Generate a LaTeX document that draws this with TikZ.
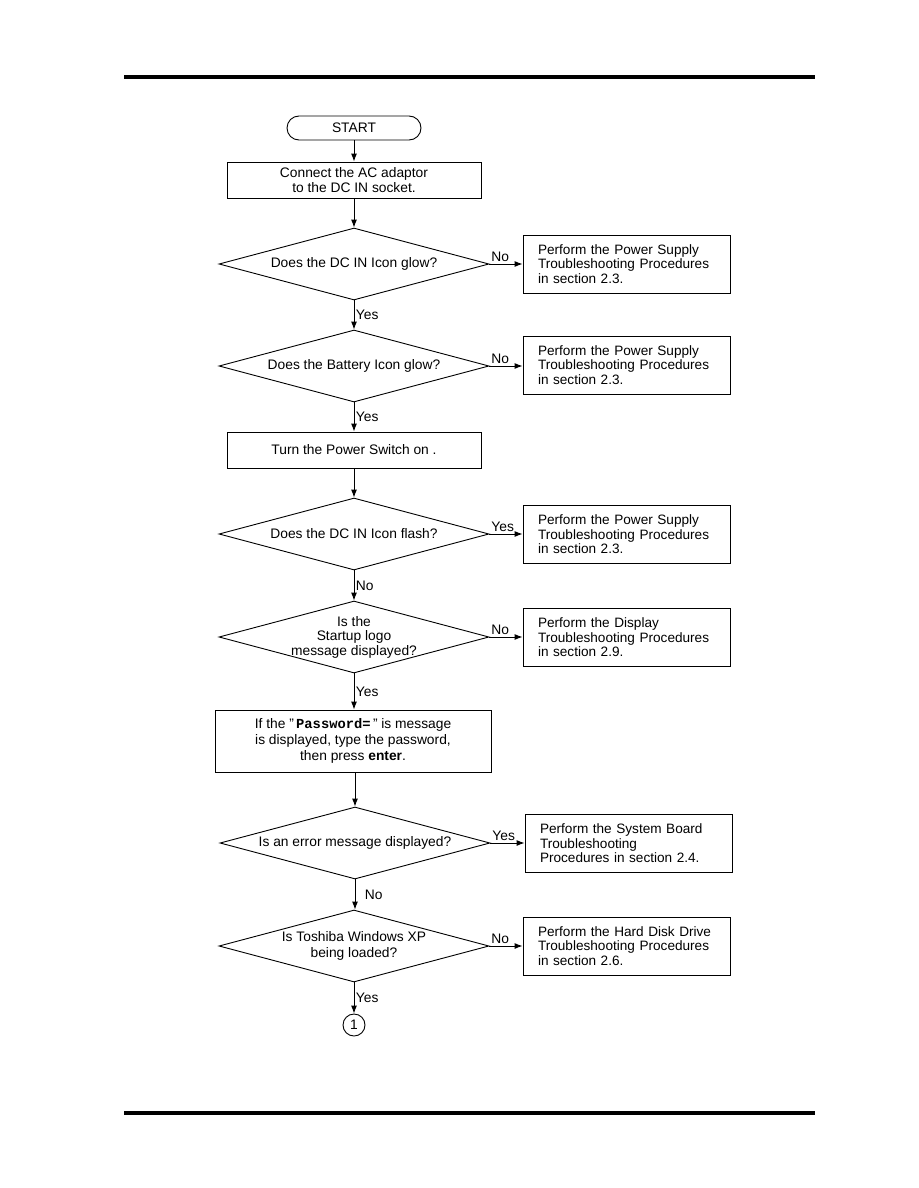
\documentclass[tikz,border=0pt]{standalone}
\usepackage{fontspec}
\setmainfont{Liberation Sans}
\setmonofont{Liberation Mono}
\usetikzlibrary{arrows.meta,
                positioning,
                shapes.geometric}

\begin{document}
\begin{tikzpicture}[x=1pt, y=-1pt,
    every node/.style={font=\fontsize{13.8}{15.8}\selectfont},
    arr/.style={line width=0.9pt, -{Latex[length=8pt, width=6pt]}},
    terminal/.style={draw, line width=0.9pt, rectangle, rounded corners=12pt,
        minimum width=134pt, minimum height=24pt},
    process/.style={draw, line width=0.9pt, rectangle, minimum width=254pt,
        minimum height=36pt, align=center},
    decision/.style={draw, line width=0.9pt, diamond, aspect=3.75, inner sep=0pt,
        minimum width=270pt, minimum height=72pt, align=center},
    action/.style={draw, line width=0.9pt, rectangle, minimum width=207pt,
        minimum height=58pt, text width=177pt, align=left,
        font=\fontsize{13.6}{14.6}\selectfont},
    lbl/.style={inner sep=1.5pt},
    connector/.style={draw, circle, line width=0.9pt, minimum size=22pt, inner sep=0pt}]

    \useasboundingbox (0,0) rectangle (918,1188);

    % page rules
    \draw[line width=4pt] (124,77) -- (815,77);
    \draw[line width=3.5pt] (124,1113) -- (815,1113);

    % main column
    \node[terminal] (start) at (354,128) {START};
    \node[process] (adaptor) at (354,180) {Connect the AC adaptor\\to the DC IN socket.};
    \node[decision] (dcglow) at (354,264) {Does the DC IN Icon glow?};
    \node[decision] (batglow) at (354,366) {Does the Battery Icon glow?};
    \node[process] (power) at (354,450) {Turn the Power Switch on .};
    \node[decision] (dcflash) at (354,534) {Does the DC IN Icon flash?};
    \node[decision, label={[align=center, font=\fontsize{13.8}{14.5}\selectfont]center:Is the\\Startup logo\\message displayed?}]
        (logo) at (354,637) {};
    \node[process, minimum width=276pt, minimum height=62pt] (passwd) at (353,741)
        {If the "\,\texttt{\textbf{Password=}}\," is message\\is displayed, type the password,\\then press \textbf{enter}.};
    \node[decision] (error) at (355,843) {Is an error message displayed?};
    \node[decision] (winxp) at (354,946) {Is Toshiba Windows XP\\being loaded?};
    \node[connector] (next) at (354,1025) {1};

    % side boxes
    \node[action] (psu1) at (626.5,264) {Perform the Power Supply\\Troubleshooting Procedures\\in section 2.3.};
    \node[action] (psu2) at (626.5,365) {Perform the Power Supply\\Troubleshooting Procedures\\in section 2.3.};
    \node[action] (psu3) at (626.5,534.5) {Perform the Power Supply\\Troubleshooting Procedures\\in section 2.3.};
    \node[action] (disp) at (626.5,637.5) {Perform the Display\\Troubleshooting Procedures\\in section 2.9.};
    \node[action] (board) at (628.5,843.5) {Perform the System Board\\Troubleshooting\\Procedures in section 2.4.};
    \node[action] (hdd) at (626.5,946) {Perform the Hard Disk Drive\\Troubleshooting Procedures\\in section 2.6.};

    % connectors
    \draw[arr] (start) -- (adaptor);
    \draw[arr] (adaptor) -- (dcglow);
    \draw[arr] (dcglow.east) -- node[lbl, pos=0, anchor=south west] {No} (psu1.west);
    \draw[arr] (dcglow.south) -- node[lbl, right, midway] {Yes} (batglow.north);
    \draw[arr] (batglow.east) -- node[lbl, pos=0, anchor=south west] {No} (psu2.west |- batglow.east);
    \draw[arr] (batglow.south) -- node[lbl, right, midway] {Yes} (power.north);
    \draw[arr] (power) -- (dcflash);
    \draw[arr] (dcflash.east) -- node[lbl, pos=0, anchor=south west] {Yes} (psu3.west |- dcflash.east);
    \draw[arr] (dcflash.south) -- node[lbl, right, midway] {No} (logo.north);
    \draw[arr] (logo.east) -- node[lbl, pos=0, anchor=south west] {No} (disp.west |- logo.east);
    \draw[arr] (logo.south) -- node[lbl, right, midway] {Yes} (passwd.north -| logo.south);
    \draw[arr] (passwd.south -| error.north) -- (error.north);
    \draw[arr] (error.east) -- node[lbl, pos=0, anchor=south west] {Yes} (board.west |- error.east);
    \draw[arr] (error.south) -- node[lbl, right=8pt, midway] {No} (winxp.north -| error.south);
    \draw[arr] (winxp.east) -- node[lbl, pos=0, anchor=south west] {No} (hdd.west);
    \draw[arr] (winxp.south) -- node[lbl, right, midway] {Yes} (next.north);

\end{tikzpicture}
\end{document}
